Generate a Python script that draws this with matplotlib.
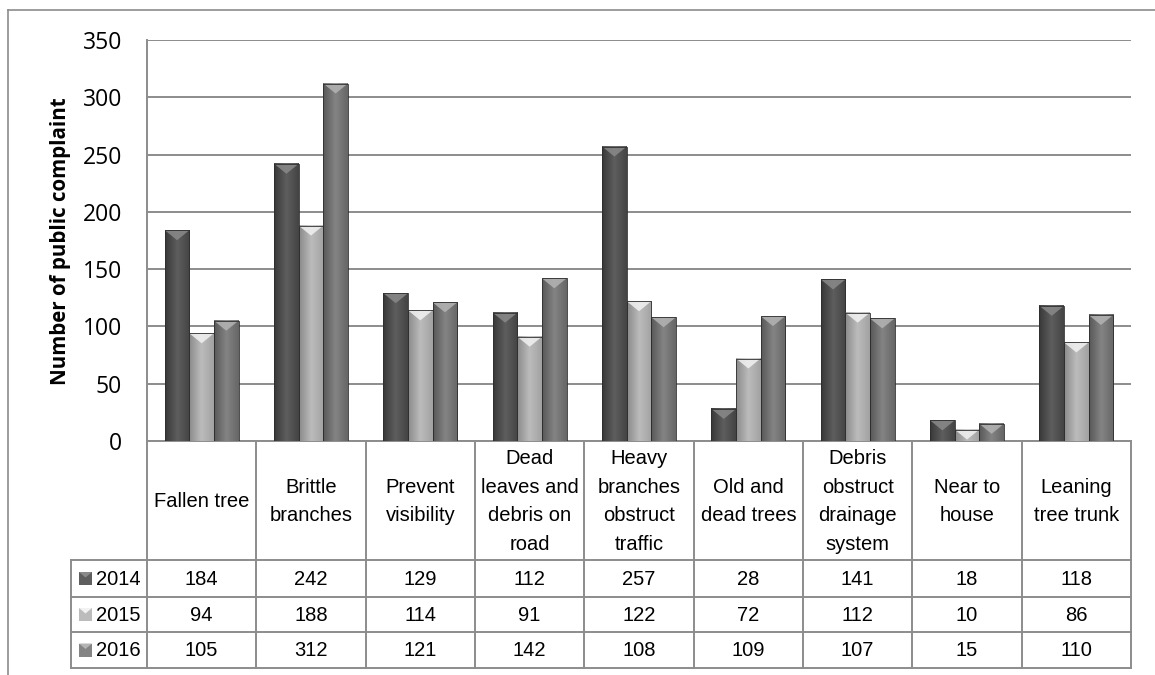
import numpy as np
import matplotlib
matplotlib.use("Agg")
import matplotlib.pyplot as plt
from matplotlib.colors import LinearSegmentedColormap
from matplotlib.patches import Polygon, Rectangle

# data
categories = ["Fallen tree", "Brittle\nbranches", "Prevent\nvisibility",
              "Dead\nleaves and\ndebris on\nroad", "Heavy\nbranches\nobstruct\ntraffic",
              "Old and\ndead trees", "Debris\nobstruct\ndrainage\nsystem",
              "Near to\nhouse", "Leaning\ntree trunk"]
years = ["2014", "2015", "2016"]
v2014 = [184, 242, 129, 112, 257, 28, 141, 18, 118]
v2015 = [94, 188, 114, 91, 122, 72, 112, 10, 86]
v2016 = [105, 312, 121, 142, 108, 109, 107, 15, 110]
series = [v2014, v2015, v2016]
yticks = [0, 50, 100, 150, 200, 250, 300, 350]

# bar shading: (left, middle, right) gradient and colour of the top bevel
shades = [("#383838", "#5e5e5e", "#444444", "#8a8a8a"),
          ("#8a8a8a", "#bcbcbc", "#a2a2a2", "#f2f2f2"),
          ("#585858", "#848484", "#666666", "#b4b4b4")]

W, H = 1155, 675
fig = plt.figure(figsize=(W / 100, H / 100), dpi=100)

# overlay in pixel coordinates for frame and table
ov = fig.add_axes([0, 0, 1, 1])
ov.set_xlim(0, W)
ov.set_ylim(H, 0)
ov.axis("off")

gray = "#8c8c8c"
ov.plot([8, 8], [10, H], color=gray, lw=1.2)
ov.plot([8, W], [10, 10], color=gray, lw=1.2)

px0, px1, py0, py1 = 147, 1131, 40, 441
ax = fig.add_axes([px0 / W, 1 - py1 / H, (px1 - px0) / W, (py1 - py0) / H])
ax.set_facecolor("none")

n = len(categories)
bw = 0.225
ymax = 350
upp = ymax / (py1 - py0)  # data units per pixel
grad = np.linspace(0, 1, 60)[None, :]

for s, vals in enumerate(series):
    left, mid, right, top = shades[s]
    cmap = LinearSegmentedColormap.from_list("b%d" % s, [left, mid, right])
    for i, v in enumerate(vals):
        x0 = i + 0.5 + (s - 1) * bw - bw / 2
        x1 = x0 + bw
        ax.imshow(grad, extent=[x0, x1, 0, v], aspect="auto", cmap=cmap,
                  zorder=3, interpolation="bilinear")
        th = min(10 * upp, v)
        ax.add_patch(Polygon([[x0, v], [x1, v], [(x0 + x1) / 2, v - th]],
                             closed=True, facecolor=top, edgecolor="none",
                             alpha=0.85, zorder=4))
        ax.add_patch(Rectangle((x0, 0), bw, v, facecolor="none",
                               edgecolor="#2e2e2e", lw=0.6, zorder=5))

ax.set_xlim(0, n)
ax.set_ylim(0, ymax)
ax.set_xticks([])
ax.set_yticks(yticks)
ax.set_yticklabels([str(t) for t in yticks], fontfamily="Open Sans", fontsize=16.5)
ax.tick_params(axis="y", length=0, pad=18)
ax.grid(axis="y", color=gray, lw=1.4, zorder=1)
for sp in ["top", "right", "bottom"]:
    ax.spines[sp].set_visible(False)
ax.spines["left"].set_color(gray)
ax.spines["left"].set_linewidth(1.4)

ov.text(61, 241, "Number of public complaint", rotation=90, ha="center", va="center",
        fontfamily="Open Sans", fontweight="bold", fontsize=14.8)

# data table under the plot
tfont = "Liberation Sans"
tsize = 14.5
cw = (px1 - px0) / n
row_y = [441, 560, 597, 632, 668]
for k in range(n + 1):
    ov.plot([px0 + k * cw] * 2, [row_y[0], row_y[-1]], color=gray, lw=1.4)
ov.plot([71, 71], [row_y[1], row_y[-1]], color=gray, lw=1.4)
ov.plot([px0, px1], [row_y[0], row_y[0]], color=gray, lw=1.4)
for y in row_y[1:]:
    ov.plot([71, px1], [y, y], color=gray, lw=1.4)

for i, c in enumerate(categories):
    ov.text(px0 + (i + 0.5) * cw, (row_y[0] + row_y[1]) / 2 + 1, c, ha="center",
            va="center", fontfamily=tfont, fontsize=tsize, linespacing=1.65)

for s, vals in enumerate(series):
    yc = (row_y[s + 1] + row_y[s + 2]) / 2
    left, mid, right, top = shades[s]
    ov.add_patch(Rectangle((79, yc - 6.5), 13, 13, facecolor=mid, edgecolor="none"))
    ov.add_patch(Polygon([[79, yc - 6.5], [92, yc - 6.5], [85.5, yc - 1]],
                         closed=True, facecolor=top, edgecolor="none"))
    ov.text(96, yc + 1, years[s], ha="left", va="center", fontfamily=tfont, fontsize=tsize)
    for i, v in enumerate(vals):
        ov.text(px0 + (i + 0.5) * cw, yc + 1, str(v), ha="center", va="center",
                fontfamily=tfont, fontsize=tsize)

fig.savefig("out.png", dpi=100)
